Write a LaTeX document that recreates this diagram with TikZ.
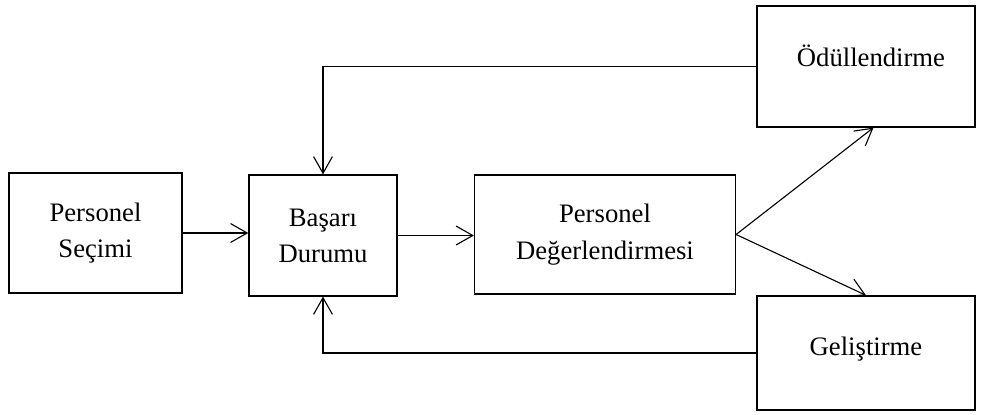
\documentclass[tikz,border=0pt]{standalone}
\usepackage{fontspec}
\setmainfont{Liberation Serif}
\usetikzlibrary{arrows.meta}

\begin{document}
\begin{tikzpicture}[x=0.45pt, y=-0.45pt]
    \tikzstyle{stage} = [rectangle, draw, line width=0.6pt, align=center, inner sep=0pt, font=\fontsize{12}{14.5}\selectfont]
    \tikzstyle{flow} = [line width=0.5pt, -{Straight Barb[length=7.5pt, width=8.5pt]}]
    \useasboundingbox (0,0) rectangle (982,415);
    \node[stage, minimum width=77.9pt, minimum height=54pt] (secim) at (95.5,233) {Personel\\[1.7pt]Seçimi};
    \node[stage, minimum width=66.6pt, minimum height=54.4pt] (basari) at (323,235.5) {Başarı\\[1.7pt]Durumu};
    \node[stage, minimum width=117.4pt, minimum height=53.5pt] (degerlendirme) at (605,234.5) {Personel\\[2pt]Değerlendirmesi};
    \node[stage, minimum width=98.1pt, minimum height=54.4pt, text depth=9.3pt] (odul) at (866,66.5) {\hspace*{4.5pt}Ödüllendirme};
    \node[stage, minimum width=98.1pt, minimum height=51.3pt, text depth=5.8pt] (gelistirme) at (866,353) {Geliştirme};
    \draw[flow] (secim.east) -- (secim.east -| basari.west);
    \draw[flow] (basari.east) -- (basari.east -| degerlendirme.west);
    \draw[flow] (degerlendirme.east) -- (odul.-83);
    \draw[flow] (degerlendirme.east) -- (gelistirme.north);
    \draw[flow] (odul.west) -| (basari.north);
    \draw[flow] (gelistirme.west) -| (basari.south);
\end{tikzpicture}
\end{document}
